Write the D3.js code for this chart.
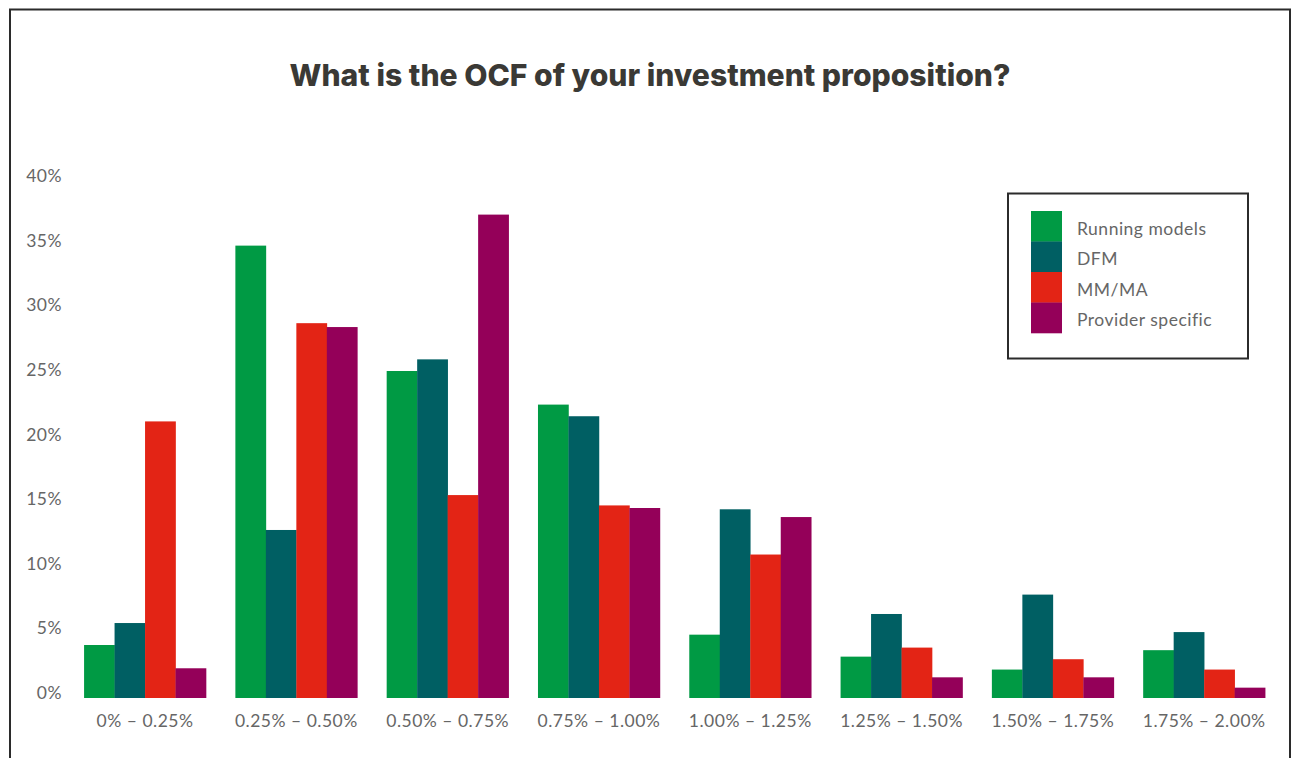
<!DOCTYPE html>
<html>
<head>
<meta charset="utf-8">
<script src="https://cdn.jsdelivr.net/npm/d3@7"></script>
<style>
  html, body { margin: 0; padding: 0; background: #ffffff; }
  svg { display: block; }
</style>
</head>
<body>
<svg id="chart" width="1292" height="758"></svg>
<script>
// OCF bands (x categories)
const categories = ["0% – 0.25%", "0.25% – 0.50%", "0.50% – 0.75%", "0.75% – 1.00%",
                    "1.00% – 1.25%", "1.25% – 1.50%", "1.50% – 1.75%", "1.75% – 2.00%"];

// Series names
const seriesNames = ["Running models", "DFM", "MM/MA", "Provider specific"];

// Share of respondents (%) per band, one array per series
const runningModels    = [4.1, 35.0, 25.3, 22.7, 4.9, 3.2, 2.2, 3.7];
const dfm              = [5.8, 13.0, 26.2, 21.8, 14.6, 6.5, 8.0, 5.1];
const mmMa             = [21.4, 29.0, 15.7, 14.9, 11.1, 3.9, 3.0, 2.2];
const providerSpecific = [2.3, 28.7, 37.4, 14.7, 14.0, 1.6, 1.6, 0.8];

// Y axis ticks (%)
const yTicks = [0, 5, 10, 15, 20, 25, 30, 35, 40];

const colors = ["#009a44", "#005f63", "#e32415", "#940059"];
const seriesValues = [runningModels, dfm, mmMa, providerSpecific];

const svg = d3.select("#chart");
const labelFont = "Lato, 'Open Sans', sans-serif";

// Outer frame
svg.append("rect")
  .attr("x", 10).attr("y", 9.5)
  .attr("width", 1280).attr("height", 800)
  .attr("fill", "none").attr("stroke", "#2b2b2b").attr("stroke-width", 2);

// Title
const title = svg.append("text")
  .attr("x", 650).attr("y", 75)
  .attr("text-anchor", "middle")
  .attr("dominant-baseline", "central")
  .attr("font-family", "Inter, 'Open Sans', sans-serif")
  .attr("font-weight", 800)
  .attr("font-size", 28)
  .attr("fill", "#3a3935")
  .text("What is the OCF of your investment proposition?");
// size the title to its intended line width
const tw = title.node().getComputedTextLength();
title.attr("font-size", 28 * 721 / tw);

// Scales
const x0 = d3.scaleBand()
  .domain(categories)
  .range([69.4, 1279.8])
  .paddingInner(0.194)
  .paddingOuter(0.097);

const x1 = d3.scaleBand()
  .domain(d3.range(seriesNames.length))
  .range([0, x0.bandwidth()])
  .padding(0);

const y = d3.scaleLinear().domain([0, 40]).range([698, 181]);

function styleLabels(sel) {
  sel.attr("font-family", labelFont)
    .attr("font-size", 17.5)
    .attr("letter-spacing", 0.5)
    .attr("fill", "#666666");
}

// Y axis labels (no axis line, no gridlines)
const yAxis = d3.axisLeft(y).tickValues(yTicks).tickFormat(d => d + "%").tickSize(0).tickPadding(0);
const gy = svg.append("g").attr("transform", "translate(62,-5)").call(yAxis);
gy.select(".domain").remove();
gy.selectAll("text").call(styleLabels);

// X axis labels
const xAxis = d3.axisBottom(x0).tickSize(0).tickPadding(0);
const gx = svg.append("g").attr("transform", "translate(0,714.5)").call(xAxis);
gx.select(".domain").remove();
gx.selectAll("text").call(styleLabels);

// Bars
const groups = svg.append("g").selectAll("g")
  .data(categories)
  .join("g")
  .attr("transform", d => `translate(${x0(d)},0)`);

groups.selectAll("rect")
  .data((d, i) => seriesValues.map((arr, s) => ({ s, v: arr[i] })))
  .join("rect")
  .attr("x", d => x1(d.s))
  .attr("y", d => y(d.v))
  .attr("width", x1.bandwidth() + 0.3)
  .attr("height", d => y(0) - y(d.v))
  .attr("fill", d => colors[d.s]);

// Legend
const legend = svg.append("g");
legend.append("rect")
  .attr("x", 1008).attr("y", 193.5)
  .attr("width", 240).attr("height", 165)
  .attr("fill", "#ffffff").attr("stroke", "#2b2b2b").attr("stroke-width", 2);

const items = legend.selectAll("g.item")
  .data(seriesNames)
  .join("g")
  .attr("class", "item")
  .attr("transform", (d, i) => `translate(1031,${211 + i * 30.5})`);

items.append("rect")
  .attr("width", 31).attr("height", 30.8)
  .attr("fill", (d, i) => colors[i]);

items.append("text")
  .attr("x", 46).attr("y", 17)
  .attr("dominant-baseline", "central")
  .call(styleLabels)
  .text(d => d);
</script>
</body>
</html>
